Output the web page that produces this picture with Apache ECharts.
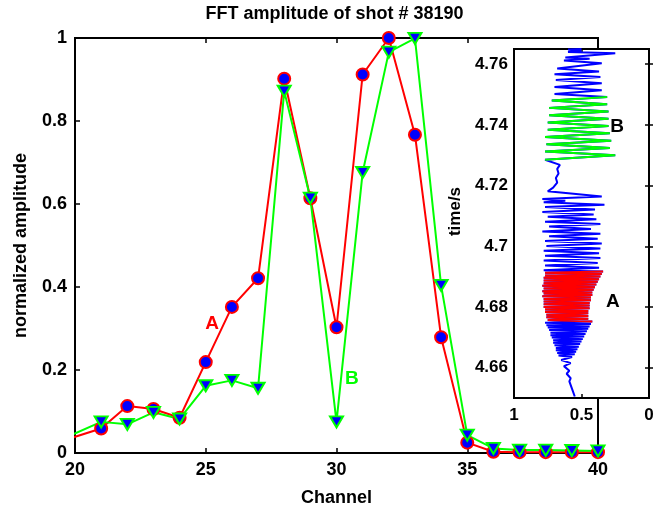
<!DOCTYPE html>
<html>
<head>
<meta charset="utf-8">
<script src="https://cdn.jsdelivr.net/npm/echarts@6/dist/echarts.min.js"></script>
<style>
  html, body { margin: 0; padding: 0; background: #fff; }
  #chart { width: 669px; height: 512px; }
</style>
</head>
<body>
<div id="chart"></div>
<script>
// FFT amplitude per channel (channel 19 lies left of the visible range)
const channels = [19, 21, 22, 23, 24, 25, 26, 27, 28, 29, 30, 31, 32, 33, 34, 35, 36, 37, 38, 39, 40];
const ampA = [0.019, 0.059, 0.113, 0.106, 0.085, 0.219, 0.352, 0.421, 0.902, 0.614, 0.303, 0.912, 1.0, 0.767, 0.279, 0.025, 0.003, 0.002, 0.002, 0.002, 0.002];
const ampB = [0.019, 0.075, 0.069, 0.098, 0.082, 0.162, 0.175, 0.156, 0.872, 0.614, 0.075, 0.676, 0.966, 0.999, 0.404, 0.043, 0.011, 0.007, 0.007, 0.006, 0.005];

const mainXTicks = [20, 25, 30, 35, 40];
const mainYTicks = [0, 0.2, 0.4, 0.6, 0.8, 1];

// Signal trace for the inset: [normalized signal, time in s], ordered in time
const traceTail = [
  [0.55, 4.6505], [0.57, 4.6530], [0.59, 4.6555], [0.58, 4.6565], [0.61, 4.6580], [0.59, 4.6590],
  [0.63, 4.6605], [0.58, 4.6615], [0.65, 4.6625], [0.57, 4.6635],
  [0.67, 4.6640], [0.55, 4.6644], [0.68, 4.6648], [0.54, 4.6652], [0.69, 4.6657], [0.53, 4.6661],
  [0.69, 4.6665], [0.52, 4.6669], [0.70, 4.6674], [0.51, 4.6678], [0.71, 4.6682], [0.50, 4.6686],
  [0.71, 4.6690], [0.49, 4.6694], [0.72, 4.6699], [0.48, 4.6703], [0.73, 4.6707], [0.47, 4.6711],
  [0.73, 4.6715], [0.46, 4.6720], [0.74, 4.6724], [0.45, 4.6728], [0.75, 4.6732], [0.44, 4.6736],
  [0.76, 4.6740], [0.43, 4.6744], [0.77, 4.6748], [0.42, 4.6752]
];
const traceA = [
  [0.42, 4.6752], [0.75, 4.6757], [0.45, 4.6761], [0.76, 4.6766], [0.45, 4.6770], [0.76, 4.6774],
  [0.45, 4.6779], [0.77, 4.6783], [0.45, 4.6787], [0.77, 4.6792], [0.44, 4.6796], [0.78, 4.6800],
  [0.44, 4.6805], [0.78, 4.6809], [0.44, 4.6813], [0.78, 4.6818], [0.43, 4.6822], [0.78, 4.6826],
  [0.43, 4.6831], [0.79, 4.6835], [0.42, 4.6839], [0.78, 4.6844], [0.42, 4.6848], [0.79, 4.6852],
  [0.41, 4.6857], [0.78, 4.6861], [0.40, 4.6865], [0.79, 4.6870], [0.39, 4.6874], [0.78, 4.6878],
  [0.38, 4.6883], [0.78, 4.6887], [0.37, 4.6891], [0.78, 4.6896], [0.36, 4.6900], [0.77, 4.6904],
  [0.35, 4.6909], [0.77, 4.6913], [0.34, 4.6917]
];
const traceMid = [
  [0.34, 4.6917], [0.78, 4.6921], [0.37, 4.6929], [0.77, 4.6937], [0.38, 4.6945], [0.78, 4.6953],
  [0.36, 4.6961], [0.77, 4.6969], [0.37, 4.6977], [0.78, 4.6985], [0.36, 4.6993], [0.76, 4.7001],
  [0.35, 4.7009], [0.77, 4.7017], [0.38, 4.7025], [0.74, 4.7033], [0.36, 4.7041], [0.79, 4.7049],
  [0.43, 4.7057], [0.74, 4.7065], [0.36, 4.7073], [0.77, 4.7081], [0.39, 4.7089], [0.75, 4.7097],
  [0.41, 4.7105], [0.79, 4.7113], [0.40, 4.7121], [0.77, 4.7129], [0.33, 4.7137], [0.78, 4.7145],
  [0.62, 4.7150], [0.79, 4.7156], [0.35, 4.7164], [0.75, 4.7181], [0.71, 4.7193], [0.68, 4.7210],
  [0.69, 4.7225], [0.67, 4.7240], [0.68, 4.7255], [0.66, 4.7268], [0.66, 4.7272], [0.77, 4.7285]
];
const traceB = [
  [0.77, 4.7285], [0.25, 4.7300], [0.77, 4.7312], [0.29, 4.7324], [0.76, 4.7336], [0.28, 4.7348],
  [0.77, 4.7360], [0.29, 4.7372], [0.75, 4.7384], [0.30, 4.7396], [0.75, 4.7408], [0.30, 4.7420],
  [0.74, 4.7432], [0.30, 4.7444], [0.74, 4.7456], [0.31, 4.7468], [0.72, 4.7480], [0.31, 4.7492]
];
const traceTop = [
  [0.31, 4.7492], [0.70, 4.7502], [0.35, 4.7514], [0.70, 4.7525], [0.35, 4.7537], [0.69, 4.7548],
  [0.36, 4.7558], [0.70, 4.7567], [0.37, 4.7576], [0.68, 4.7586], [0.35, 4.7603], [0.63, 4.7612],
  [0.44, 4.7618], [0.62, 4.7622], [0.25, 4.7636], [0.60, 4.7640], [0.50, 4.7645], [0.60, 4.7648],
  [0.50, 4.7650]
];
const insetXTicks = [0, 0.5, 1];
const insetYTicks = [4.66, 4.68, 4.70, 4.72, 4.74, 4.76];

// Annotation anchors, in data units
const labelA = { text: 'A', at: [25.24, 0.312] };
const labelB = { text: 'B', at: [30.59, 0.179] };
const insetLabelA = { text: 'A', at: [0.267, 4.6818] };
const insetLabelB = { text: 'B', at: [0.237, 4.7394] };

const FONT = 'Arial, "Liberation Sans", Helvetica, sans-serif';
const chart = echarts.init(document.getElementById('chart'), null, { renderer: 'canvas' });

const pairs = (xs, ys) => xs.map((x, i) => [x, ys[i]]);
const fullTrace = [].concat(traceTail, traceA.slice(1), traceMid.slice(1), traceB.slice(1), traceTop.slice(1));

// A text-only mark: the symbol itself is invisible, only its label shows
function textMark(lbl, color, z) {
  return {
    z: z,
    symbol: 'circle',
    symbolSize: 2,
    silent: true,
    itemStyle: { color: 'rgba(0,0,0,0)' },
    label: {
      show: true, formatter: lbl.text, position: 'inside',
      color: color, fontFamily: FONT, fontWeight: 'bold', fontSize: 19
    },
    data: [{ coord: lbl.at }]
  };
}

const tickLabel = { color: '#000', fontFamily: FONT, fontWeight: 'bold', fontSize: 18 };
const insetTickLabel = { color: '#000', fontFamily: FONT, fontWeight: 'bold', fontSize: 17 };
const line = { lineStyle: { color: '#000', width: 2 } };

chart.setOption({
  animation: false,
  backgroundColor: '#fff',
  title: {
    text: 'FFT amplitude of shot # 38190',
    left: 'center', top: 0,
    textStyle: { color: '#000', fontFamily: FONT, fontWeight: 'bold', fontSize: 18 }
  },
  grid: [
    { left: 75, top: 38, width: 523, height: 420, show: true, borderColor: '#000', borderWidth: 2, backgroundColor: '#fff' },
    { left: 514, top: 49, width: 135, height: 349, show: true, borderColor: '#000', borderWidth: 2, backgroundColor: '#fff', z: 10 }
  ],
  xAxis: [
    {
      gridIndex: 0, type: 'value', min: 20, max: 40, interval: 5,
      name: 'Channel', nameLocation: 'middle', nameGap: 36,
      nameTextStyle: { color: '#000', fontFamily: FONT, fontWeight: 'bold', fontSize: 18 },
      axisLine: line, axisTick: { inside: true, length: 5, lineStyle: { color: '#000', width: 1.5 }, customValues: mainXTicks },
      axisLabel: Object.assign({ margin: 8, customValues: mainXTicks }, tickLabel),
      splitLine: { show: false }
    },
    {
      gridIndex: 0, type: 'value', min: 20, max: 40, interval: 5, position: 'top',
      axisLine: line, axisTick: { inside: true, length: 5, lineStyle: { color: '#000', width: 1.5 } },
      axisLabel: { show: false }, splitLine: { show: false }
    },
    {
      gridIndex: 1, type: 'value', min: 0, max: 1, inverse: true, z: 11,
      axisLine: line, axisTick: { inside: true, length: 4, lineStyle: { color: '#000', width: 1.5 }, customValues: insetXTicks },
      axisLabel: Object.assign({ margin: 9, customValues: insetXTicks, formatter: v => String(v) }, insetTickLabel),
      splitLine: { show: false }
    },
    {
      gridIndex: 1, type: 'value', min: 0, max: 1, inverse: true, position: 'top', z: 11,
      axisLine: line, axisTick: { inside: true, length: 4, lineStyle: { color: '#000', width: 1.5 }, customValues: insetXTicks },
      axisLabel: { show: false }, splitLine: { show: false }
    }
  ],
  yAxis: [
    {
      gridIndex: 0, type: 'value', min: 0, max: 1, interval: 0.2,
      name: 'normalized amplitude', nameLocation: 'middle', nameGap: 45,
      nameTextStyle: { color: '#000', fontFamily: FONT, fontWeight: 'bold', fontSize: 18 },
      axisLine: line, axisTick: { inside: true, length: 5, lineStyle: { color: '#000', width: 1.5 }, customValues: mainYTicks },
      axisLabel: Object.assign({ margin: 8, customValues: mainYTicks }, tickLabel),
      splitLine: { show: false }
    },
    {
      gridIndex: 1, type: 'value', min: 4.65, max: 4.765, z: 11,
      name: 'time/s', nameLocation: 'middle', nameGap: 50,
      nameTextStyle: { color: '#000', fontFamily: FONT, fontWeight: 'bold', fontSize: 17, padding: [0, 0, 0, 24] },
      axisLine: line, axisTick: { inside: true, length: 4, lineStyle: { color: '#000', width: 1.5 }, customValues: insetYTicks },
      axisLabel: Object.assign({ margin: 6, customValues: insetYTicks, formatter: v => String(+v.toFixed(2)) }, insetTickLabel),
      splitLine: { show: false }
    },
    {
      gridIndex: 1, type: 'value', min: 4.65, max: 4.765, position: 'right', z: 11,
      axisLine: line, axisTick: { inside: true, length: 4, lineStyle: { color: '#000', width: 1.5 }, customValues: insetYTicks },
      axisLabel: { show: false }, splitLine: { show: false }
    }
  ],
  series: [
    {
      name: 'A', type: 'line', xAxisIndex: 0, yAxisIndex: 0, clip: true,
      data: pairs(channels, ampA),
      symbol: 'circle', symbolSize: 12, showAllSymbol: true,
      lineStyle: { color: '#ff0000', width: 2 },
      itemStyle: { color: '#0000ff', borderColor: '#ff0000', borderWidth: 2 },
      markPoint: textMark(labelA, '#ff0000', 5)
    },
    {
      name: 'B', type: 'line', xAxisIndex: 0, yAxisIndex: 0, clip: true,
      data: pairs(channels, ampB),
      symbol: 'triangle', symbolRotate: 180, symbolSize: [13, 11], showAllSymbol: true,
      lineStyle: { color: '#00ff00', width: 2 },
      itemStyle: { color: '#0000ff', borderColor: '#00ff00', borderWidth: 2 },
      markPoint: textMark(labelB, '#00ff00', 5)
    },
    {
      name: 'trace', type: 'line', xAxisIndex: 2, yAxisIndex: 1, z: 12, clip: true,
      data: fullTrace, symbol: 'none',
      lineStyle: { color: '#0000ff', width: 2 }
    },
    {
      name: 'trace A', type: 'line', xAxisIndex: 2, yAxisIndex: 1, z: 13, clip: true,
      data: traceA, symbol: 'none',
      lineStyle: { color: '#ff0000', width: 2 },
      markPoint: textMark(insetLabelA, '#000', 20)
    },
    {
      name: 'trace B', type: 'line', xAxisIndex: 2, yAxisIndex: 1, z: 13, clip: true,
      data: traceB, symbol: 'none',
      lineStyle: { color: '#00ff00', width: 2 },
      markPoint: textMark(insetLabelB, '#000', 20)
    }
  ]
});
</script>
</body>
</html>
